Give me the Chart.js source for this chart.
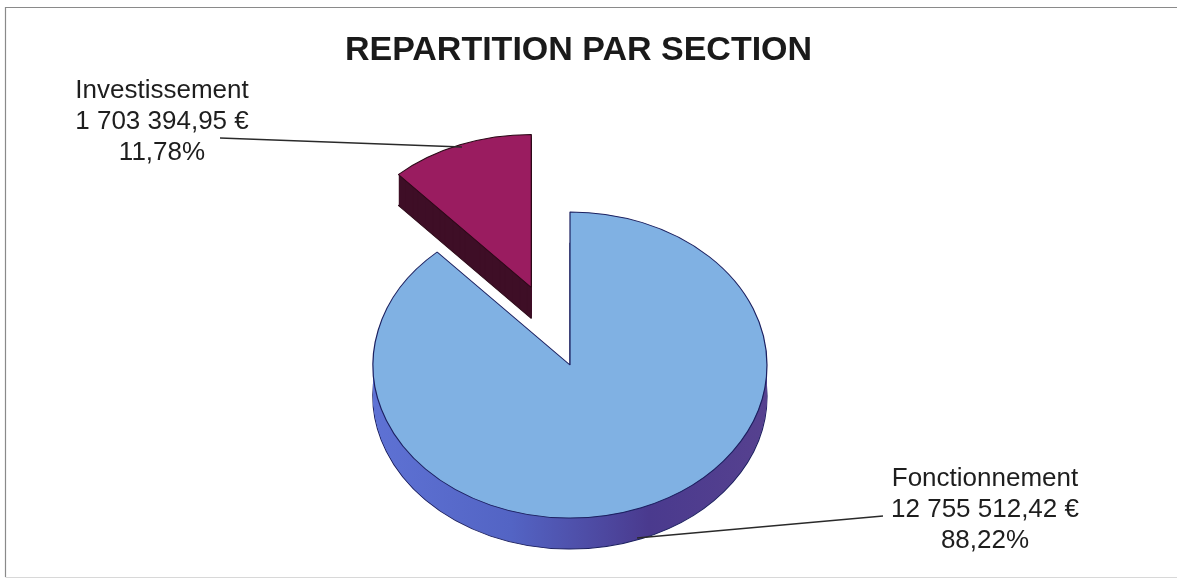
<!DOCTYPE html>
<html>
<head>
<meta charset="utf-8">
<script src="https://cdn.jsdelivr.net/npm/chart.js@4.4.1/dist/chart.umd.min.js"></script>
<style>
  html, body { margin: 0; padding: 0; background: #fff; }
  #wrap { position: relative; width: 1177px; height: 581px; }
</style>
</head>
<body>
<div id="wrap"><canvas id="pie" width="1177" height="581"></canvas></div>
<script>
// données
const sections = ['Fonctionnement', 'Investissement'];
const amounts = [12755512.42, 1703394.95];
const amountLabels = ['12 755 512,42 €', '1 703 394,95 €'];
const percentLabels = ['88,22%', '11,78%'];
const topColors = ['#80b1e3', '#9a1c60'];
const edgeColors = ['#1c2060', '#2a0816'];

// faux 3D : ellipse + épaisseur + part détachée
const pie3d = {
    id: 'pie3d',
    setTransform(chart, ctx, dy) {
        const o = chart.options.plugins.pie3d;
        const arc = chart.getDatasetMeta(0).data[0];
        ctx.translate(o.cx, o.cy + dy);
        ctx.scale(1, o.tilt);
        ctx.translate(-arc.x, -arc.y);
    },
    sideFill(ctx, arc, i) {
        if (i === 1) return '#3e0e26';
        const g = ctx.createLinearGradient(arc.x - arc.outerRadius, 0, arc.x + arc.outerRadius, 0);
        g.addColorStop(0, '#5e72d4');
        g.addColorStop(0.35, '#5364c4');
        g.addColorStop(0.7, '#4a3a8e');
        g.addColorStop(1, '#56418f');
        return g;
    },
    drawArc(ctx, arc, i, explode, override) {
        const orig = arc.options;
        const mid = (arc.startAngle + arc.endAngle) / 2;
        ctx.save();
        ctx.translate(Math.cos(mid) * explode[i], Math.sin(mid) * explode[i]);
        if (override) arc.options = Object.assign({}, orig, override);
        arc.draw(ctx);
        arc.options = orig;
        ctx.restore();
    },
    beforeDatasetsDraw(chart) {
        const ctx = chart.ctx;
        const o = chart.options.plugins.pie3d;
        const arcs = chart.getDatasetMeta(0).data;
        for (let d = o.depth; d >= 1; d--) {
            ctx.save();
            this.setTransform(chart, ctx, d);
            arcs.forEach((arc, i) => {
                this.drawArc(ctx, arc, i, o.explode, {
                    backgroundColor: this.sideFill(ctx, arc, i),
                    borderWidth: d === o.depth ? 1.2 : 0,
                    borderColor: edgeColors[i]
                });
            });
            ctx.restore();
        }
        ctx.save();
        this.setTransform(chart, ctx, 0);
        arcs.forEach((arc, i) => this.drawArc(ctx, arc, i, o.explode, null));
        ctx.restore();
        return false;
    }
};

// étiquettes + traits de rappel + cadre
const labelsPlugin = {
    id: 'sliceLabels',
    beforeDraw(chart) {
        const ctx = chart.ctx;
        ctx.save();
        ctx.strokeStyle = '#8a8a8a';
        ctx.lineWidth = 1.2;
        ctx.beginPath();
        ctx.moveTo(5.5, 577);
        ctx.lineTo(5.5, 7.5);
        ctx.lineTo(1177, 7.5);
        ctx.stroke();
        ctx.strokeStyle = '#d8d8d8';
        ctx.beginPath();
        ctx.moveTo(5.5, 577.5);
        ctx.lineTo(1177, 577.5);
        ctx.stroke();
        ctx.restore();
    },
    afterDraw(chart) {
        const ctx = chart.ctx;
        const o = chart.options.plugins.sliceLabels;
        ctx.save();
        ctx.font = '26px "Liberation Sans", Arial, sans-serif';
        ctx.fillStyle = '#1e1e1e';
        ctx.textAlign = 'center';
        ctx.textBaseline = 'alphabetic';
        sections.forEach((name, i) => {
            const p = o.anchors[i];
            [name, amountLabels[i], percentLabels[i]].forEach((t, k) => {
                ctx.fillText(t, p.x, p.y + k * o.lineHeight);
            });
            const l = o.leaders[i];
            ctx.strokeStyle = '#2a2a2a';
            ctx.lineWidth = 1.4;
            ctx.beginPath();
            ctx.moveTo(l[0], l[1]);
            ctx.lineTo(l[2], l[3]);
            ctx.stroke();
        });
        ctx.restore();
    }
};

new Chart(document.getElementById('pie'), {
    type: 'pie',
    data: {
        labels: sections,
        datasets: [{
            data: amounts,
            backgroundColor: topColors,
            borderColor: edgeColors,
            borderWidth: 1.2,
            clip: false
        }]
    },
    options: {
        responsive: false,
        animation: false,
        radius: 197,
        rotation: 0,
        layout: { padding: { left: 0, right: 20, top: 0, bottom: 0 } },
        events: [],
        plugins: {
            legend: { display: false },
            tooltip: { enabled: false },
            title: {
                display: true,
                text: 'REPARTITION PAR SECTION',
                color: '#1a1a1a',
                font: { family: '"Liberation Sans", Arial, sans-serif', size: 34, weight: 'bold' },
                padding: { top: 30, bottom: 10 }
            },
            pie3d: { cx: 570, cy: 365, tilt: 0.777, depth: 31, explode: [0, 107] },
            sliceLabels: {
                lineHeight: 31,
                anchors: [{ x: 985, y: 486 }, { x: 162, y: 98 }],
                leaders: [[883, 516, 637, 538], [220, 138, 462, 147]]
            }
        }
    },
    plugins: [pie3d, labelsPlugin]
});
</script>
</body>
</html>
